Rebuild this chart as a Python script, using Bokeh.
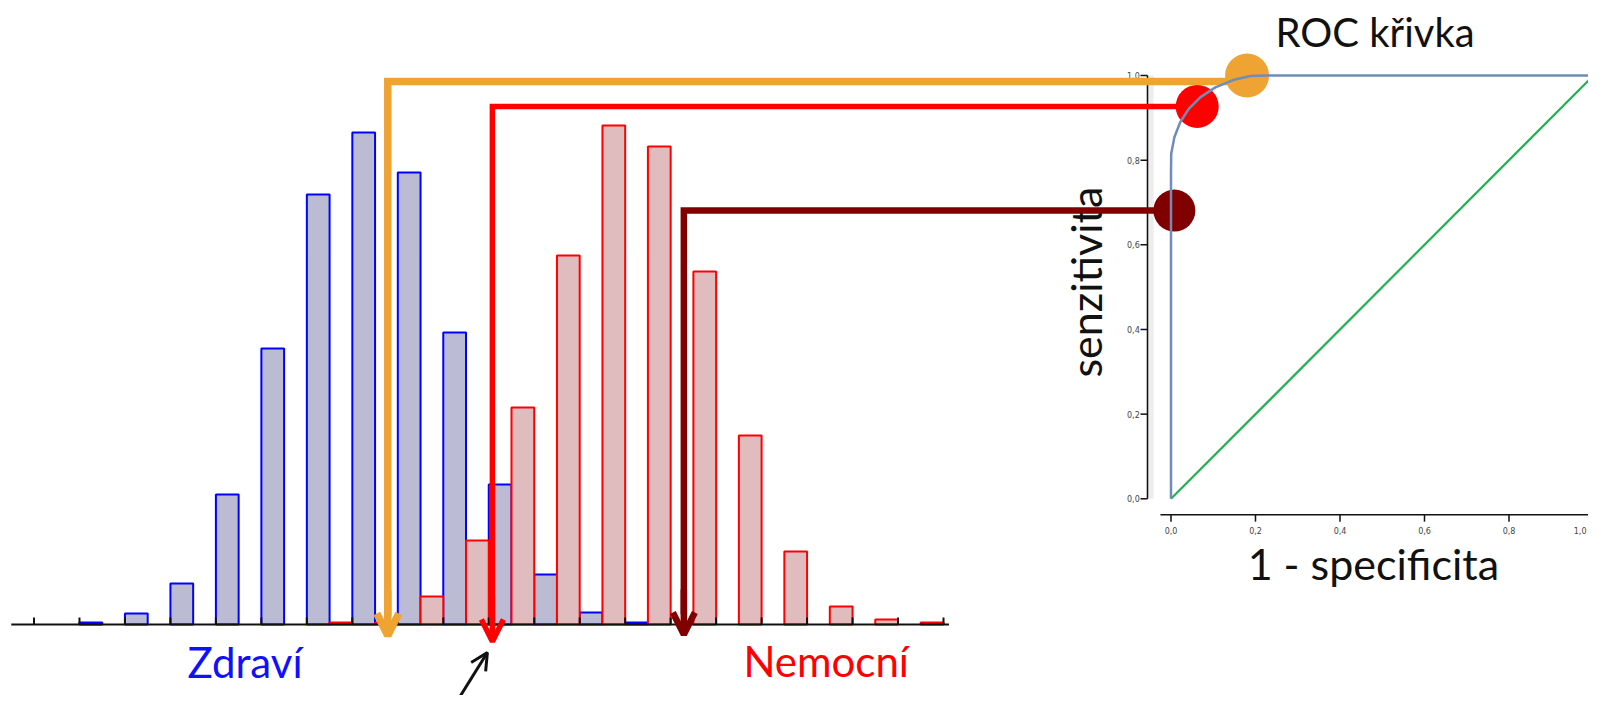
from math import pi
from bokeh.plotting import figure
from bokeh.models import Range1d, Arrow, OpenHead
from bokeh.core.properties import value
from bokeh.embed import file_html
from bokeh.resources import INLINE

# ---------------- data ----------------
# histogram: class boundaries (bin index) and frequencies
bin_edges = list(range(21))
zdravi = [0, 2, 11, 41, 130, 276, 430, 492, 452, 292, 140, 50, 12, 2, 0, 0, 0, 0, 0, 0]
nemocni = [0, 0, 0, 0, 0, 0, 2, 2, 28, 84, 217, 369, 499, 478, 353, 189, 73, 18, 5, 2]

# ROC curve (1 - specificity, sensitivity)
roc_fpr = [0.0, 0.0, 0.0, 0.0005, 0.008, 0.022, 0.042, 0.070, 0.105, 0.149, 0.188, 0.228, 1.0]
roc_tpr = [0.0, 0.60, 0.768, 0.815, 0.854, 0.890, 0.921, 0.949, 0.972, 0.990, 0.999, 1.0, 1.0]
diag_x = [0.0, 1.0]
diag_y = [0.0, 1.0]
axis_ticks = [0.0, 0.2, 0.4, 0.6, 0.8, 1.0]
axis_tick_labels = ["0,0", "0,2", "0,4", "0,6", "0,8", "1,0"]

# cut-off points: value on histogram axis, ROC point
cut_value = [7.78, 10.08, 14.29]
cut_fpr = [0.180, 0.062, 0.008]
cut_tpr = [1.000, 0.927, 0.681]
cut_line_tpr = [0.986, 0.927, 0.681]
cut_tip = [-11, -17, -10]
cut_colors = ["#EEA333", "#FF0000", "#800000"]
cut_widths = [7.5, 5.5, 6.5]
cut_sizes = [44, 43, 42]

pointer_start = (9.04, -96)
pointer_end = (9.97, -28)

# ---------------- figure ----------------
hist_x = Range1d(-0.73667, 34.18362)
hist_y = Range1d(-71, 624)
roc_x = Range1d(-2.77041, 0.98817)
roc_y = Range1d(-0.46468, 1.17718)

p = figure(width=1588, height=695, x_range=hist_x, y_range=hist_y,
           output_backend="svg", toolbar_location=None, min_border=0,
           x_axis_type=None, y_axis_type=None, outline_line_color=None)
p.extra_x_ranges = {"roc_x": roc_x}
p.extra_y_ranges = {"roc_y": roc_y}
R = dict(x_range_name="roc_x", y_range_name="roc_y")


def roc_to_hist_x(v):
    f = (v - roc_x.start) / (roc_x.end - roc_x.start)
    return hist_x.start + f * (hist_x.end - hist_x.start)


def roc_to_hist_y(v):
    f = (v - roc_y.start) / (roc_y.end - roc_y.start)
    return hist_y.start + f * (hist_y.end - hist_y.start)


# histogram bars
bl, br, bt = [], [], []
rl, rr, rt = [], [], []
for k in range(len(zdravi)):
    if zdravi[k] > 0:
        bl.append(bin_edges[k]); br.append(bin_edges[k] + 0.5); bt.append(zdravi[k])
    if nemocni[k] > 0:
        rl.append(bin_edges[k] + 0.5); rr.append(bin_edges[k + 1]); rt.append(nemocni[k])
p.quad(left=bl, right=br, bottom=0, top=bt, fill_color="#BBBBD4", line_color="#0000FF", line_width=2)
p.quad(left=rl, right=rr, bottom=0, top=rt, fill_color="#E0BCBE", line_color="#FF0000", line_width=2)

# histogram baseline and ticks
p.segment(x0=[-0.5], y0=[0], x1=[20.12], y1=[0], line_color="#111111", line_width=2)
p.segment(x0=bin_edges, y0=[0] * len(bin_edges), x1=bin_edges, y1=[7] * len(bin_edges),
          line_color="#111111", line_width=2)

# ROC axes
p.quad(left=[-0.053], right=[-0.041], bottom=[0.0], top=[1.0], fill_color="#EDEDED", line_color=None, **R)
p.segment(x0=[-0.0556], y0=[0.0], x1=[-0.0556], y1=[1.0], line_color="#111111", line_width=1.6, **R)
p.segment(x0=[-0.0722] * 6, y0=axis_ticks, x1=[-0.0556] * 6, y1=axis_ticks, line_color="#111111", line_width=1.5, **R)
p.segment(x0=[-0.025], y0=[-0.0378], x1=[1.03], y1=[-0.0378], line_color="#111111", line_width=1.6, **R)
p.segment(x0=axis_ticks, y0=[-0.0378] * 6, x1=axis_ticks, y1=[-0.054] * 6, line_color="#111111", line_width=1.5, **R)
p.text(x=[-0.074] * 6, y=axis_ticks, text=axis_tick_labels, text_align="right", text_baseline="middle",
       text_font=value("DejaVu Sans"), text_font_size=value("8px"), text_color="#444444", **R)
p.text(x=axis_ticks[:-1], y=[-0.0749] * 5, text=axis_tick_labels[:-1], text_align="center", text_baseline="middle",
       text_font=value("DejaVu Sans"), text_font_size=value("8px"), text_color="#444444", **R)
p.text(x=[0.9834], y=[-0.0749], text=axis_tick_labels[-1:], text_align="right", text_baseline="middle",
       text_font=value("DejaVu Sans"), text_font_size=value("8px"), text_color="#444444", **R)

# titles
p.text(x=[0.483], y=[1.1016], text=["ROC křivka"], text_align="center", text_baseline="middle",
       text_font=value("Lato"), text_font_size=value("40px"), text_color="#111111", **R)
p.text(x=[0.479], y=[-0.152], text=["1 - specificita"], text_align="center", text_baseline="middle",
       text_font=value("Lato"), text_font_size=value("43px"), text_color="#111111", **R)
p.text(x=[-0.2024], y=[0.512], text=["senzitivita"], angle=pi / 2, text_align="center",
       text_baseline="middle", text_font=value("Lato"), text_font_size=value("43px"),
       text_color="#111111", **R)
p.text(x=[4.64], y=[-37], text=["Zdraví"], text_align="center", text_baseline="middle",
       text_font=value("Lato"), text_font_size=value("42px"), text_color="#1010FF")
p.text(x=[17.42], y=[-36], text=["Nemocní"], text_align="center", text_baseline="middle",
       text_font=value("Lato"), text_font_size=value("42px"), text_color="#FF0000")

# cut-off connector lines with arrows
for i in range(len(cut_value)):
    c, w = cut_colors[i], cut_widths[i]
    cx = roc_to_hist_x(cut_fpr[i])
    ly = roc_to_hist_y(cut_line_tpr[i])
    p.line(x=[cx, cut_value[i], cut_value[i]], y=[ly, ly, cut_tip[i] + 20],
           line_color=c, line_width=w, line_join="miter")
    p.add_layout(Arrow(end=OpenHead(size=22, line_color=c, line_width=w),
                       x_start=cut_value[i], y_start=cut_tip[i] + 45,
                       x_end=cut_value[i], y_end=cut_tip[i], line_color=c, line_width=w))

# pointer arrow
p.add_layout(Arrow(end=OpenHead(size=17, line_color="#111111", line_width=3),
                   x_start=pointer_start[0], y_start=pointer_start[1],
                   x_end=pointer_end[0], y_end=pointer_end[1], line_color="#111111", line_width=3))

# ROC points
p.scatter(x=cut_fpr, y=cut_tpr, size=cut_sizes, fill_color=cut_colors, line_color=None, **R)

# ROC curve and diagonal
p.line(x=diag_x, y=diag_y, line_color="#22B150", line_width=2.2, **R)
p.line(x=roc_fpr, y=roc_tpr, line_color="#6F8DB8", line_width=2.5, **R)

open("out.html", "w").write(file_html(p, INLINE))
